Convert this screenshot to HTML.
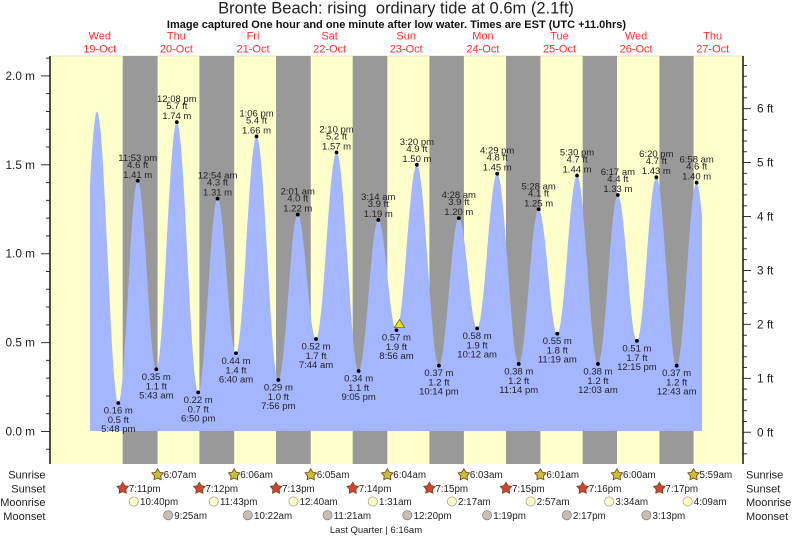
<!DOCTYPE html>
<html><head><meta charset="utf-8">
<style>
html,body{margin:0;padding:0;background:#fff;}
svg{display:block;font-family:"Liberation Sans",Arial,sans-serif;}
.t{font-size:9.5px;fill:#222;text-anchor:middle;}
.ax{font-size:11.8px;fill:#222;}
.day{font-size:11px;fill:#ff3030;text-anchor:middle;}
.ev{font-size:9.8px;fill:#222;}
.rl{font-size:11px;fill:#222;}
</style></head>
<body>
<svg width="793" height="537" viewBox="0 0 793 537" xmlns="http://www.w3.org/2000/svg">
<defs>
<polygon id="star" points="0,-6 1.94,-2.67 5.706,-1.854 3.14,1.02 3.527,4.854 0,3.3 -3.527,4.854 -3.14,1.02 -5.706,-1.854 -1.94,-2.67" stroke="#7a4a20" stroke-width="0.9"/>
</defs>
<rect x="0" y="0" width="793" height="537" fill="#fff"/>
<text x="396" y="13.5" font-size="16.5" fill="#222" text-anchor="middle" style="white-space:pre" xml:space="preserve">Bronte Beach: rising  ordinary tide at 0.6m (2.1ft)</text>
<text x="396.5" y="28" font-size="11" font-weight="bold" fill="#111" text-anchor="middle">Image captured One hour and one minute after low water. Times are EST (UTC +11.0hrs)</text>

<g class="day">
<text x="99.8" y="39.5">Wed</text><text x="99.8" y="52.3">19-Oct</text>
<text x="176.4" y="39.5">Thu</text><text x="176.4" y="52.3">20-Oct</text>
<text x="253" y="39.5">Fri</text><text x="253" y="52.3">21-Oct</text>
<text x="329.6" y="39.5">Sat</text><text x="329.6" y="52.3">22-Oct</text>
<text x="406.2" y="39.5">Sun</text><text x="406.2" y="52.3">23-Oct</text>
<text x="482.9" y="39.5">Mon</text><text x="482.9" y="52.3">24-Oct</text>
<text x="559.5" y="39.5">Tue</text><text x="559.5" y="52.3">25-Oct</text>
<text x="636.1" y="39.5">Wed</text><text x="636.1" y="52.3">26-Oct</text>
<text x="712.7" y="39.5">Thu</text><text x="712.7" y="52.3">27-Oct</text>
</g>

<rect x="50" y="56" width="693" height="408" fill="#ffffcc"/>
<line x1="50" y1="56" x2="743" y2="56" stroke="#e4e4c8" stroke-width="1"/>
<g fill="#999999">
<rect x="122.7" y="56" width="34.9" height="408"/>
<rect x="199.4" y="56" width="34.8" height="408"/>
<rect x="276.05" y="56" width="34.7" height="408"/>
<rect x="352.7" y="56" width="34.6" height="408"/>
<rect x="429.4" y="56" width="34.5" height="408"/>
<rect x="506.0" y="56" width="34.4" height="408"/>
<rect x="582.7" y="56" width="34.3" height="408"/>
<rect x="659.4" y="56" width="34.2" height="408"/>
</g>

<path fill="#a3b6ff" d="M90,431 L90,185.1 C92.33,141.5 94.66,111.46 96.99,111.46
C104.75,111.46 110.53,403.05 118.29,403.05
C125.36,403.05 130.64,180.80 137.71,180.80
C144.49,180.80 149.55,369.27 156.33,369.27
C163.79,369.27 169.36,122.13 176.82,122.13
C184.61,122.13 190.41,392.38 198.20,392.38
C205.25,392.38 210.52,198.58 217.57,198.58
C224.27,198.58 229.28,353.27 235.98,353.27
C243.46,353.27 249.04,136.35 256.52,136.35
C264.47,136.35 270.39,379.94 278.34,379.94
C285.41,379.94 290.69,214.58 297.76,214.58
C304.41,214.58 309.36,339.04 316.01,339.04
C323.49,339.04 329.07,152.35 336.55,152.35
C344.59,152.35 350.59,371.05 358.63,371.05
C365.78,371.05 371.11,219.92 378.26,219.92
C384.89,219.92 389.83,330.15 396.46,330.15
C403.90,330.15 409.45,164.80 416.89,164.80
C424.91,164.80 430.90,365.71 438.92,365.71
C446.17,365.71 451.57,218.14 458.82,218.14
C465.48,218.14 470.46,328.38 477.12,328.38
C484.43,328.38 489.87,173.69 497.18,173.69
C505.03,173.69 510.88,363.94 518.73,363.94
C525.98,363.94 531.38,209.25 538.63,209.25
C545.43,209.25 550.51,333.71 557.31,333.71
C564.50,333.71 569.86,175.47 577.05,175.47
C584.67,175.47 590.34,363.94 597.96,363.94
C605.21,363.94 610.61,195.03 617.86,195.03
C624.80,195.03 629.97,340.82 636.91,340.82
C643.98,340.82 649.26,177.25 656.33,177.25
C663.75,177.25 669.29,365.71 676.71,365.71
C683.98,365.71 689.39,182.58 696.66,182.58
C698.44,182.58 700.22,196.6 702,215.5
L702,431 Z"/>

<path stroke="#333" stroke-width="1" fill="none" d="
M46,449.28H50 M41,431.5H50 M46,413.72H50 M46,395.94H50 M46,378.16H50 M46,360.38H50
M41,342.6H50 M46,324.82H50 M46,307.04H50 M46,289.26H50 M46,271.48H50
M41,253.7H50 M46,235.92H50 M46,218.14H50 M46,200.36H50 M46,182.58H50
M41,164.8H50 M46,147.02H50 M46,129.24H50 M46,111.46H50 M46,93.68H50
M41,75.9H50 M46,58.12H50
M743,453.88H747 M743,443.09H747 M743,432.3H751 M743,421.51H747 M743,410.72H747 M743,399.93H747 M743,389.14H747
M743,378.35H751 M743,367.56H747 M743,356.77H747 M743,345.98H747 M743,335.19H747
M743,324.4H751 M743,313.61H747 M743,302.82H747 M743,292.03H747 M743,281.24H747
M743,270.45H751 M743,259.66H747 M743,248.87H747 M743,238.08H747 M743,227.29H747
M743,216.5H751 M743,205.71H747 M743,194.92H747 M743,184.13H747 M743,173.34H747
M743,162.55H751 M743,151.76H747 M743,140.97H747 M743,130.18H747 M743,119.39H747
M743,108.6H751 M743,97.81H747 M743,87.02H747 M743,76.23H747 M743,65.44H747"/>
<line x1="50" y1="56" x2="50" y2="464" stroke="#222" stroke-width="1.6"/>
<line x1="743" y1="56" x2="743" y2="464" stroke="#222" stroke-width="1.6"/>

<g class="ax" text-anchor="end">
<text x="35" y="435.5">0.0 m</text>
<text x="35" y="346.6">0.5 m</text>
<text x="35" y="257.7">1.0 m</text>
<text x="35" y="168.8">1.5 m</text>
<text x="35" y="79.9">2.0 m</text>
</g>
<g class="ax">
<text x="757" y="436.3">0 ft</text>
<text x="757" y="382.4">1 ft</text>
<text x="757" y="328.4">2 ft</text>
<text x="757" y="274.5">3 ft</text>
<text x="757" y="220.5">4 ft</text>
<text x="757" y="166.6">5 ft</text>
<text x="757" y="112.6">6 ft</text>
</g>

<g fill="#000">
<circle cx="118.29" cy="403.05" r="1.9"/><circle cx="137.71" cy="180.80" r="1.9"/>
<circle cx="156.33" cy="369.27" r="1.9"/><circle cx="176.82" cy="122.13" r="1.9"/>
<circle cx="198.20" cy="392.38" r="1.9"/><circle cx="217.57" cy="198.58" r="1.9"/>
<circle cx="235.98" cy="353.27" r="1.9"/><circle cx="256.52" cy="136.35" r="1.9"/>
<circle cx="278.34" cy="379.94" r="1.9"/><circle cx="297.76" cy="214.58" r="1.9"/>
<circle cx="316.01" cy="339.04" r="1.9"/><circle cx="336.55" cy="152.35" r="1.9"/>
<circle cx="358.63" cy="371.05" r="1.9"/><circle cx="378.26" cy="219.92" r="1.9"/>
<circle cx="396.46" cy="330.15" r="1.9"/><circle cx="416.89" cy="164.80" r="1.9"/>
<circle cx="438.92" cy="365.71" r="1.9"/><circle cx="458.82" cy="218.14" r="1.9"/>
<circle cx="477.12" cy="328.38" r="1.9"/><circle cx="497.18" cy="173.69" r="1.9"/>
<circle cx="518.73" cy="363.94" r="1.9"/><circle cx="538.63" cy="209.25" r="1.9"/>
<circle cx="557.31" cy="333.71" r="1.9"/><circle cx="577.05" cy="175.47" r="1.9"/>
<circle cx="597.96" cy="363.94" r="1.9"/><circle cx="617.86" cy="195.03" r="1.9"/>
<circle cx="636.91" cy="340.82" r="1.9"/><circle cx="656.33" cy="177.25" r="1.9"/>
<circle cx="676.71" cy="365.71" r="1.9"/><circle cx="696.66" cy="182.58" r="1.9"/>
</g>

<g class="t">
<text x="137.71" y="160.8">11:53 pm</text><text x="137.71" y="167.8">4.6 ft</text><text x="137.71" y="177.8">1.41 m</text>
<text x="176.82" y="102.1">12:08 pm</text><text x="176.82" y="109.1">5.7 ft</text><text x="176.82" y="119.1">1.74 m</text>
<text x="217.57" y="178.6">12:54 am</text><text x="217.57" y="185.6">4.3 ft</text><text x="217.57" y="195.6">1.31 m</text>
<text x="256.52" y="116.4">1:06 pm</text><text x="256.52" y="123.4">5.4 ft</text><text x="256.52" y="133.4">1.66 m</text>
<text x="297.76" y="194.6">2:01 am</text><text x="297.76" y="201.6">4.0 ft</text><text x="297.76" y="211.6">1.22 m</text>
<text x="336.55" y="132.4">2:10 pm</text><text x="336.55" y="139.4">5.2 ft</text><text x="336.55" y="149.4">1.57 m</text>
<text x="378.26" y="199.9">3:14 am</text><text x="378.26" y="206.9">3.9 ft</text><text x="378.26" y="216.9">1.19 m</text>
<text x="416.89" y="144.8">3:20 pm</text><text x="416.89" y="151.8">4.9 ft</text><text x="416.89" y="161.8">1.50 m</text>
<text x="458.82" y="198.1">4:28 am</text><text x="458.82" y="205.1">3.9 ft</text><text x="458.82" y="215.1">1.20 m</text>
<text x="497.18" y="153.7">4:29 pm</text><text x="497.18" y="160.7">4.8 ft</text><text x="497.18" y="170.7">1.45 m</text>
<text x="538.63" y="189.25">5:28 am</text><text x="538.63" y="196.25">4.1 ft</text><text x="538.63" y="206.25">1.25 m</text>
<text x="577.05" y="155.5">5:30 pm</text><text x="577.05" y="162.5">4.7 ft</text><text x="577.05" y="172.5">1.44 m</text>
<text x="617.86" y="175">6:17 am</text><text x="617.86" y="182">4.4 ft</text><text x="617.86" y="192">1.33 m</text>
<text x="656.33" y="157.2">6:20 pm</text><text x="656.33" y="164.2">4.7 ft</text><text x="656.33" y="174.2">1.43 m</text>
<text x="696.66" y="162.6">6:58 am</text><text x="696.66" y="169.6">4.6 ft</text><text x="696.66" y="179.6">1.40 m</text>

<text x="118.29" y="413.55">0.16 m</text><text x="118.29" y="423.05">0.5 ft</text><text x="118.29" y="432.05">5:48 pm</text>
<text x="156.33" y="379.77">0.35 m</text><text x="156.33" y="389.27">1.1 ft</text><text x="156.33" y="398.27">5:43 am</text>
<text x="198.2" y="402.9">0.22 m</text><text x="198.2" y="412.4">0.7 ft</text><text x="198.2" y="421.4">6:50 pm</text>
<text x="235.98" y="363.8">0.44 m</text><text x="235.98" y="373.3">1.4 ft</text><text x="235.98" y="382.3">6:40 am</text>
<text x="278.34" y="390.4">0.29 m</text><text x="278.34" y="399.9">1.0 ft</text><text x="278.34" y="408.9">7:56 pm</text>
<text x="316.01" y="349.5">0.52 m</text><text x="316.01" y="359">1.7 ft</text><text x="316.01" y="368">7:44 am</text>
<text x="358.63" y="381.5">0.34 m</text><text x="358.63" y="391">1.1 ft</text><text x="358.63" y="400">9:05 pm</text>
<text x="396.46" y="340.7">0.57 m</text><text x="396.46" y="350.2">1.9 ft</text><text x="396.46" y="359.2">8:56 am</text>
<text x="438.92" y="376.2">0.37 m</text><text x="438.92" y="385.7">1.2 ft</text><text x="438.92" y="394.7">10:14 pm</text>
<text x="477.12" y="338.9">0.58 m</text><text x="477.12" y="348.4">1.9 ft</text><text x="477.12" y="357.4">10:12 am</text>
<text x="518.73" y="374.4">0.38 m</text><text x="518.73" y="383.9">1.2 ft</text><text x="518.73" y="392.9">11:14 pm</text>
<text x="557.31" y="344.2">0.55 m</text><text x="557.31" y="353.7">1.8 ft</text><text x="557.31" y="362.7">11:19 am</text>
<text x="597.96" y="374.4">0.38 m</text><text x="597.96" y="383.9">1.2 ft</text><text x="597.96" y="392.9">12:03 am</text>
<text x="636.91" y="351.3">0.51 m</text><text x="636.91" y="360.8">1.7 ft</text><text x="636.91" y="369.8">12:15 pm</text>
<text x="676.71" y="376.2">0.37 m</text><text x="676.71" y="385.7">1.2 ft</text><text x="676.71" y="394.7">12:43 am</text>
</g>

<polygon points="399.5,319.5 394.3,327.6 404.7,327.6" fill="#e8e020" stroke="#7a6a00" stroke-width="0.8"/>

<g class="rl" text-anchor="end">
<text x="45.5" y="478.5">Sunrise</text>
<text x="45.5" y="492.3">Sunset</text>
<text x="45.5" y="506">Moonrise</text>
<text x="45.5" y="520">Moonset</text>
</g>
<g class="rl">
<text x="746" y="478.5">Sunrise</text>
<text x="746" y="492.3">Sunset</text>
<text x="746" y="506">Moonrise</text>
<text x="746" y="520">Moonset</text>
</g>

<g fill="#c8c038">
<use href="#star" x="157.61" y="474.8"/><use href="#star" x="234.17" y="474.8"/>
<use href="#star" x="310.74" y="474.8"/><use href="#star" x="387.31" y="474.8"/>
<use href="#star" x="463.88" y="474.8"/><use href="#star" x="540.39" y="474.8"/>
<use href="#star" x="616.96" y="474.8"/><use href="#star" x="693.52" y="474.8"/>
</g>
<g fill="#d84030">
<use href="#star" x="122.70" y="488.3"/><use href="#star" x="199.38" y="488.3"/>
<use href="#star" x="276.05" y="488.3"/><use href="#star" x="352.72" y="488.3"/>
<use href="#star" x="429.40" y="488.3"/><use href="#star" x="506.02" y="488.3"/>
<use href="#star" x="582.69" y="488.3"/><use href="#star" x="659.36" y="488.3"/>
</g>
<g fill="#ffffcc" stroke="#a0a090" stroke-width="0.8">
<circle cx="133.82" cy="501.5" r="4.6"/><circle cx="213.80" cy="501.5" r="4.6"/>
<circle cx="293.45" cy="501.5" r="4.6"/><circle cx="372.78" cy="501.5" r="4.6"/>
<circle cx="451.85" cy="501.5" r="4.6"/><circle cx="530.60" cy="501.5" r="4.6"/>
<circle cx="609.19" cy="501.5" r="4.6"/><circle cx="687.67" cy="501.5" r="4.6"/>
</g>
<g fill="#c4c0b4" stroke="#888880" stroke-width="0.8">
<circle cx="168.14" cy="515.2" r="4.6"/><circle cx="247.80" cy="515.2" r="4.6"/>
<circle cx="327.55" cy="515.2" r="4.6"/><circle cx="407.31" cy="515.2" r="4.6"/>
<circle cx="487.07" cy="515.2" r="4.6"/><circle cx="566.78" cy="515.2" r="4.6"/>
<circle cx="646.38" cy="515.2" r="4.6"/>
</g>

<g class="ev">
<text x="163.6" y="478">6:07am</text>
<text x="240.2" y="478">6:06am</text>
<text x="316.7" y="478">6:05am</text>
<text x="393.3" y="478">6:04am</text>
<text x="469.9" y="478">6:03am</text>
<text x="546.4" y="478">6:01am</text>
<text x="623" y="478">6:00am</text>
<text x="699.5" y="478">5:59am</text>

<text x="128.7" y="491.8">7:11pm</text>
<text x="205.4" y="491.8">7:12pm</text>
<text x="282" y="491.8">7:13pm</text>
<text x="358.7" y="491.8">7:14pm</text>
<text x="435.4" y="491.8">7:15pm</text>
<text x="512" y="491.8">7:15pm</text>
<text x="588.7" y="491.8">7:16pm</text>
<text x="665.4" y="491.8">7:17pm</text>

<text x="140" y="505.2">10:40pm</text>
<text x="220" y="505.2">11:43pm</text>
<text x="299.6" y="505.2">12:40am</text>
<text x="379" y="505.2">1:31am</text>
<text x="458" y="505.2">2:17am</text>
<text x="536.8" y="505.2">2:57am</text>
<text x="615.4" y="505.2">3:34am</text>
<text x="693.8" y="505.2">4:09am</text>

<text x="174.3" y="519">9:25am</text>
<text x="254" y="519">10:22am</text>
<text x="333.7" y="519">11:21am</text>
<text x="413.5" y="519">12:20pm</text>
<text x="493.2" y="519">1:19pm</text>
<text x="573" y="519">2:17pm</text>
<text x="652.5" y="519">3:13pm</text>
</g>
<text x="376" y="533" font-size="9.5" fill="#222" text-anchor="middle">Last Quarter | 6:16am</text>
</svg>
</body></html>
